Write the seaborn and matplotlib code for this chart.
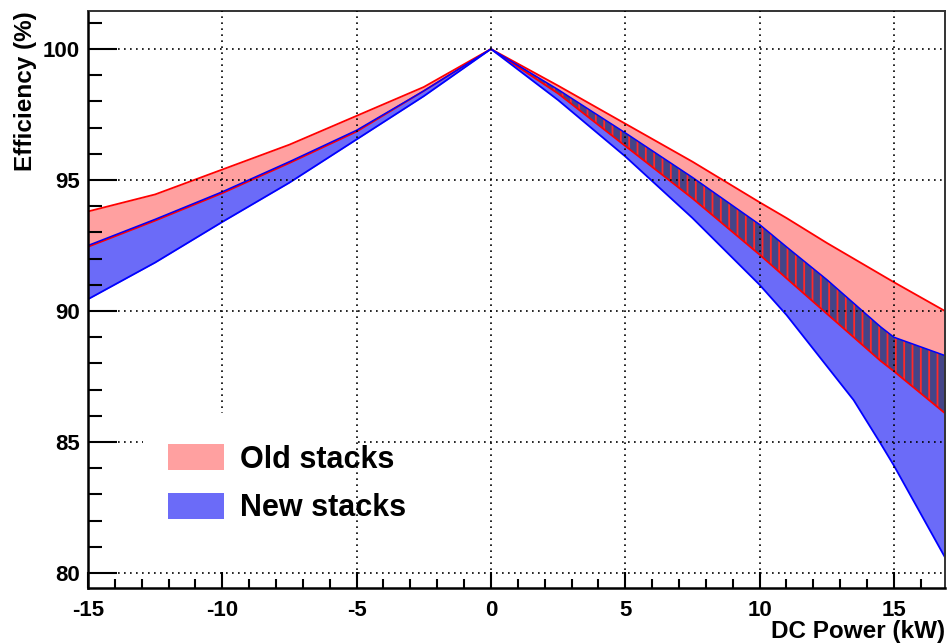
import numpy as np
import pandas as pd
import matplotlib
matplotlib.use('Agg')
import matplotlib.pyplot as plt
from matplotlib.patches import Patch, Rectangle
from matplotlib.ticker import MultipleLocator
import seaborn as sns

# DC power (kW) and efficiency envelopes (%)
power = [-15, -12.5, -10, -7.5, -5, -2.5, 0, 2.5, 5, 7.5, 10, 11, 12.5, 13.5, 14.5, 15, 16.9]
old_hi = [93.8, 94.45, 95.4, 96.35, 97.45, 98.55, 100, 98.6, 97.15, 95.7, 94.15, 93.55, 92.6, 92.0, 91.4, 91.1, 90.0]
old_lo = [92.45, 93.45, 94.5, 95.65, 96.85, 98.4, 100, 98.3, 96.3, 94.3, 92.15, 91.25, 89.9, 89.0, 88.1, 87.7, 86.1]
new_hi = [92.5, 93.5, 94.55, 95.7, 96.9, 98.4, 100, 98.45, 96.8, 95.1, 93.3, 92.45, 91.2, 90.3, 89.4, 89.0, 88.3]
new_lo = [90.45, 91.85, 93.4, 94.9, 96.55, 98.2, 100, 98.05, 95.9, 93.55, 91.0, 89.85, 87.9, 86.6, 84.95, 84.1, 80.6]
labels = ['Old stacks', 'New stacks']

df = pd.DataFrame({'power': power, 'old_hi': old_hi, 'old_lo': old_lo,
                   'new_hi': new_hi, 'new_lo': new_lo})

sns.set_style('white')
plt.rcParams['font.family'] = ['Liberation Sans', 'DejaVu Sans']
plt.rcParams['font.weight'] = 'bold'
plt.rcParams['axes.unicode_minus'] = False
plt.rcParams['hatch.linewidth'] = 1.3
plt.rcParams['text.color'] = 'black'
plt.rcParams['axes.labelcolor'] = 'black'
plt.rcParams['xtick.color'] = 'black'
plt.rcParams['ytick.color'] = 'black'

fig = plt.figure(figsize=(9.48, 6.44), dpi=100)
ax = fig.add_axes([0.0928, 0.087, 0.9040, 0.8959])

red_fill = '#ffa0a0'
blue_fill = '#6b6bf8'

# bands
ax.fill_between(df['power'], df['old_lo'], df['old_hi'], color=red_fill, lw=0, zorder=1)
ax.fill_between(df['power'], df['new_lo'], df['new_hi'], color=blue_fill, lw=0, zorder=1.5)
# overlap of the two bands
ax.fill_between(df['power'], df['old_lo'], df['new_hi'], where=df['new_hi'] > df['old_lo'],
                interpolate=True, facecolor='#444488', edgecolor='#ff2a2a', hatch='||',
                lw=0, zorder=1.8)

# band edges
sns.lineplot(data=df, x='power', y='old_hi', color='red', lw=1.3, ax=ax, zorder=2)
sns.lineplot(data=df, x='power', y='old_lo', color='red', lw=1.3, ax=ax, zorder=2)
sns.lineplot(data=df, x='power', y='new_hi', color='blue', lw=1.1, ax=ax, zorder=2)
sns.lineplot(data=df, x='power', y='new_lo', color='blue', lw=1.3, ax=ax, zorder=2)

ax.set_xlim(-15, 16.9)
ax.set_ylim(79.43, 101.45)

ax.xaxis.set_major_locator(MultipleLocator(5))
ax.xaxis.set_minor_locator(MultipleLocator(1))
ax.yaxis.set_major_locator(MultipleLocator(5))
ax.yaxis.set_minor_locator(MultipleLocator(1))

ax.grid(True, which='major', color='black', linestyle=(0, (1, 2.6)), lw=1.2)
ax.set_axisbelow(False)

ax.tick_params(axis='both', which='both', direction='in', width=1.5, color='black',
               labelcolor='black', labelsize=16, top=False, right=False,
               bottom=True, left=True)
ax.tick_params(axis='x', which='major', length=11.5, pad=9)
ax.tick_params(axis='x', which='minor', length=6.5)
ax.tick_params(axis='y', which='major', length=21, pad=6)
ax.tick_params(axis='y', which='minor', length=10)
for lab in ax.get_xticklabels() + ax.get_yticklabels():
    lab.set_fontweight('bold')

for side in ['left', 'bottom']:
    ax.spines[side].set_linewidth(1.8)
    ax.spines[side].set_color('black')
for side in ['top', 'right']:
    ax.spines[side].set_linewidth(1.4)
    ax.spines[side].set_color('#333333')

ax.set_xlabel('DC Power (kW)', fontsize=17.5, fontweight='bold', loc='right', labelpad=-1)
ax.set_ylabel('Efficiency (%)', fontsize=17.5, fontweight='bold', loc='top', labelpad=4)

# white box behind the legend
ax.add_patch(Rectangle((0.064, 0.03), 0.248, 0.273, transform=ax.transAxes,
                       facecolor='white', edgecolor='none', zorder=3))

handles = [Patch(facecolor=red_fill, edgecolor='none'),
           Patch(facecolor=blue_fill, edgecolor='none')]
ax.legend(handles, labels, loc='upper left', bbox_to_anchor=(0.0934, 0.249),
          frameon=False, handlelength=1.83, handleheight=0.92,
          handletextpad=0.52, labelspacing=0.6, borderpad=0, borderaxespad=0,
          prop={'weight': 'bold', 'size': 22})

plt.savefig('out.png', dpi=100)
